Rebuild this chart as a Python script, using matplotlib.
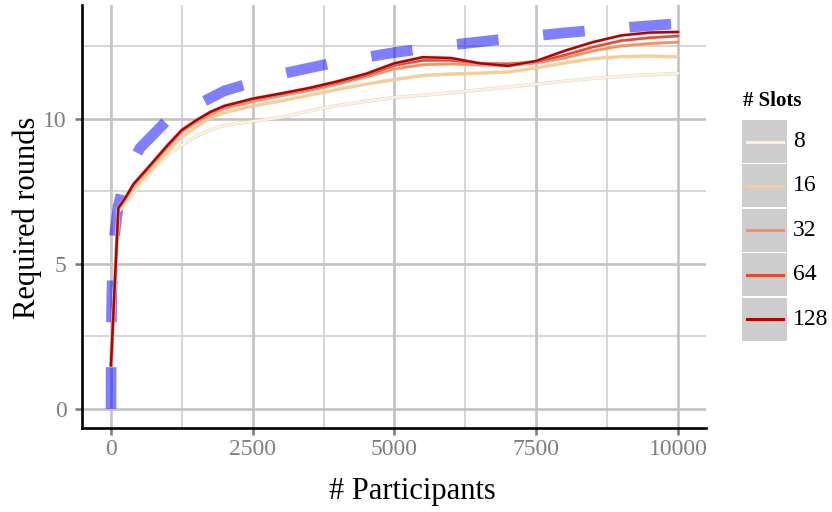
import matplotlib
matplotlib.use("Agg")
import matplotlib.pyplot as plt
import matplotlib.patheffects as pe
from matplotlib.patches import Rectangle
from matplotlib.lines import Line2D

# ---- data ----
participants = [0, 130, 250, 400, 600, 800, 1000, 1250, 1500, 1750, 2000, 2500,
                3000, 3500, 4000, 4500, 5000, 5500, 6000, 6500, 7000, 7500,
                8000, 8500, 9000, 9500, 10000]
rounds_8 = [1.5, 6.8, 7.05, 7.45, 7.9, 8.35, 8.78, 9.1, 9.4, 9.62, 9.78, 9.92,
            10.05, 10.28, 10.46, 10.61, 10.74, 10.82, 10.9, 11.0, 11.1, 11.2,
            11.3, 11.4, 11.47, 11.52, 11.57]
rounds_16 = [1.5, 6.87, 7.15, 7.6, 8.02, 8.45, 8.88, 9.38, 9.72, 10.03, 10.22, 10.45,
             10.62, 10.82, 11.02, 11.2, 11.36, 11.5, 11.55, 11.58, 11.62, 11.76,
             11.93, 12.08, 12.15, 12.17, 12.14]
rounds_32 = [1.5, 6.9, 7.22, 7.7, 8.13, 8.58, 9.02, 9.55, 9.87, 10.15, 10.36, 10.6,
             10.8, 10.98, 11.2, 11.45, 11.73, 11.87, 11.9, 11.86, 11.84, 11.93,
             12.1, 12.35, 12.52, 12.6, 12.65]
rounds_64 = [1.5, 6.93, 7.25, 7.74, 8.18, 8.62, 9.06, 9.6, 9.92, 10.21, 10.42, 10.67,
             10.85, 11.03, 11.25, 11.5, 11.85, 12.02, 12.02, 11.92, 11.9, 11.97,
             12.2, 12.48, 12.7, 12.8, 12.86]
rounds_128 = [1.5, 6.93, 7.27, 7.76, 8.2, 8.65, 9.1, 9.62, 9.95, 10.24, 10.45, 10.7,
              10.88, 11.07, 11.3, 11.56, 11.92, 12.13, 12.1, 11.92, 11.83, 12.0,
              12.35, 12.65, 12.88, 12.98, 13.0]
slots = ["8", "16", "32", "64", "128"]
series = [rounds_8, rounds_16, rounds_32, rounds_64, rounds_128]
colors = ["#FEF0D9", "#FDCC8A", "#FC8D59", "#E34A33", "#B30000"]

bound_x = [1, 2, 4, 8, 16, 32, 64, 128, 256, 512, 1000, 2000, 3000, 4000,
           5000, 6000, 7000, 8000, 9000, 10000]
bound_y = [0, 1, 2, 3, 4, 5, 6, 7, 8, 9, 9.97, 10.97, 11.55, 11.97,
           12.29, 12.55, 12.77, 12.97, 13.14, 13.29]

x_ticks = [0, 2500, 5000, 7500, 10000]
x_minor = [1250, 3750, 6250, 8750]
y_ticks = [0, 5, 10]
y_minor = [2.5, 7.5, 12.5]

W, H = 832, 512
fig = plt.figure(figsize=(W / 100, H / 100), dpi=100)
serif = "Liberation Serif"

ax = fig.add_axes([82 / W, 1 - 428 / H, (706 - 82) / W, (428 - 5) / H])
ax.set_xlim(-511, 10494)
ax.set_ylim(-0.66, 13.93)

# grid
for xv in x_minor:
    ax.axvline(xv, color="#CFCFCF", lw=1.2, zorder=0)
for yv in y_minor:
    ax.axhline(yv, color="#CFCFCF", lw=1.2, zorder=0)
for xv in x_ticks:
    ax.axvline(xv, color="#C2C2C2", lw=1.9, zorder=0)
for yv in y_ticks:
    ax.axhline(yv, color="#C2C2C2", lw=1.9, zorder=0)

# bound (dashed)
ax.plot(bound_x, bound_y, color="#0000FF", alpha=0.5, lw=7.7,
        dashes=(3.9, 4.2), solid_capstyle="butt", dash_capstyle="butt", zorder=2)

for ys, c in zip(series, colors):
    ax.plot(participants, ys, color=c, lw=1.8, zorder=3,
            solid_joinstyle="round",
            path_effects=[pe.Stroke(linewidth=2.6, foreground="#C8C8C8", alpha=0.6),
                          pe.Normal()])

for s in ["top", "right"]:
    ax.spines[s].set_visible(False)
for s in ["left", "bottom"]:
    ax.spines[s].set_linewidth(1.9)
    ax.spines[s].set_color("black")

ax.set_xticks(x_ticks)
ax.set_xticklabels([str(v) for v in x_ticks])
ax.set_yticks(y_ticks)
ax.set_yticklabels([str(v) for v in y_ticks])
ax.tick_params(axis="both", colors="#7F7F7F", length=5, width=1.9, labelsize=17)
ax.tick_params(axis="x", pad=3)
ax.tick_params(axis="y", pad=6)
for lab in ax.get_xticklabels() + ax.get_yticklabels():
    lab.set_fontfamily(serif)

fig.text(412 / W, 1 - 492 / H, "# Participants", ha="center", va="center",
         fontsize=22, family=serif, color="black")
fig.text(27 / W, 1 - 218 / H, "Required rounds", ha="center", va="center",
         rotation=90, fontsize=22, family=serif, color="black")

# legend
def fx(px):
    return px / W

def fy(py):
    return 1 - py / H

fig.text(fx(743), fy(101), "# Slots", ha="left", va="center", fontsize=15,
         fontweight="bold", family=serif, color="black")
top = 120
pitch = 44.4
kh = 43.0
for i, (lab, c) in enumerate(zip(slots, colors)):
    y0 = top + i * pitch
    fig.add_artist(Rectangle((fx(742), fy(y0 + kh)), fx(787) - fx(742), (kh) / H,
                             transform=fig.transFigure, facecolor="#CDCDCD",
                             edgecolor="none"))
    yc = y0 + kh / 2
    fig.add_artist(Line2D([fx(747), fx(783)], [fy(yc), fy(yc)],
                          transform=fig.transFigure, color=c, lw=2.2))
    fig.text(fx(793), fy(yc), lab, ha="left", va="center", fontsize=17,
             family=serif, color="black")

fig.savefig("out.png", dpi=100)
